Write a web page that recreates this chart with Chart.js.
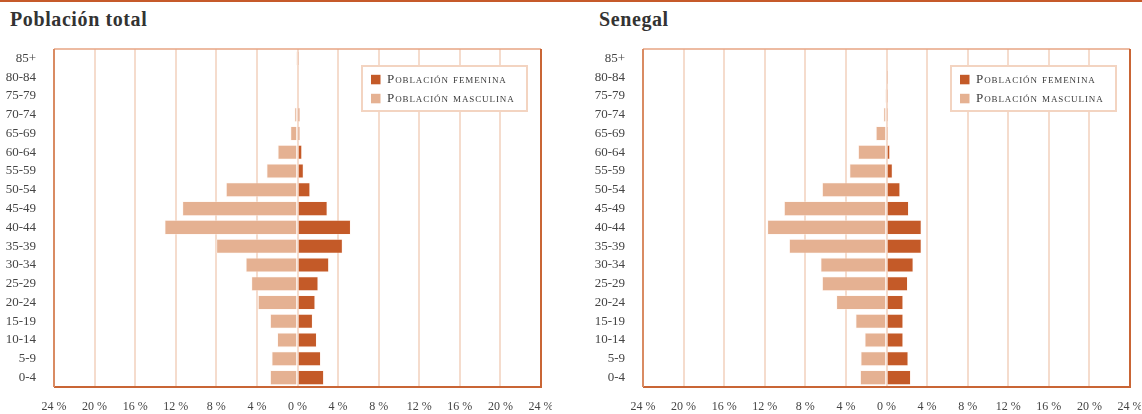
<!DOCTYPE html>
<html>
<head>
<meta charset="utf-8">
<script src="https://cdn.jsdelivr.net/npm/chart.js@4"></script>
<style>
  body { margin: 0; background: #fff; width: 1142px; height: 414px; overflow: hidden; position: relative; }
  .topline { position: absolute; left: 0; top: 0; width: 1142px; height: 2px; background: #c65a2a; }
  .panel { position: absolute; top: 0; width: 552px; height: 414px; }
  .panel h2 { position: absolute; left: 10px; top: 8px; margin: 0; font: bold 20px "Liberation Serif", serif; letter-spacing: 0.6px; color: #333; }
  .panel .box { position: absolute; left: 0; top: 40px; width: 552px; height: 374px; }
</style>
</head>
<body>
<div class="topline"></div>
<div class="panel" style="left:0"><h2>Población total</h2><div class="box"><canvas id="chartTotal"></canvas></div></div>
<div class="panel" style="left:589px"><h2>Senegal</h2><div class="box"><canvas id="chartSenegal"></canvas></div></div>
<script>
// grupos de edad, de arriba a abajo
let gruposEdad = ['85+', '80-84', '75-79', '70-74', '65-69', '60-64', '55-59', '50-54', '45-49',
    '40-44', '35-39', '30-34', '25-29', '20-24', '15-19', '10-14', '5-9', '0-4'];

// Población total (%)
let totalFemenina = [0.05, 0.1, 0.1, 0.25, 0.25, 0.45, 0.6, 1.25, 2.95, 5.25, 4.45, 3.1, 2.05, 1.75, 1.5, 1.9, 2.3, 2.6];
let totalMasculina = [0.05, 0.1, 0.1, 0.3, 0.7, 1.95, 3.05, 7.05, 11.35, 13.1, 8.0, 5.1, 4.55, 3.9, 2.7, 2.0, 2.55, 2.7];

// Senegal (%)
let senegalFemenina = [0, 0.05, 0.05, 0.15, 0.15, 0.35, 0.6, 1.35, 2.2, 3.45, 3.45, 2.65, 2.1, 1.65, 1.65, 1.65, 2.15, 2.4];
let senegalMasculina = [0, 0.1, 0.05, 0.3, 1.05, 2.8, 3.65, 6.35, 10.1, 11.75, 9.6, 6.5, 6.35, 4.95, 3.05, 2.15, 2.55, 2.6];

let ticksX = [-24, -20, -16, -12, -8, -4, 0, 4, 8, 12, 16, 20, 24];

const colorFemenina = '#c45a28';
const colorMasculina = '#e5b192';
const fuente = '"Liberation Serif", serif';

// marco del area del grafico + leyenda dentro
const marcoLeyenda = {
    id: 'marcoLeyenda',
    afterDraw(chart) {
        const ctx = chart.ctx;
        const a = chart.chartArea;
        ctx.save();
        ctx.strokeStyle = '#e7a583';
        ctx.lineWidth = 1.5;
        ctx.beginPath();
        ctx.moveTo(a.left, a.top);
        ctx.lineTo(a.right, a.top);
        ctx.stroke();
        ctx.strokeStyle = '#c96535';
        ctx.lineWidth = 2;
        ctx.beginPath();
        ctx.moveTo(a.right, a.top);
        ctx.lineTo(a.right, a.bottom);
        ctx.lineTo(a.left, a.bottom);
        ctx.stroke();
        ctx.strokeStyle = '#d98b63';
        ctx.beginPath();
        ctx.moveTo(a.left, a.top);
        ctx.lineTo(a.left, a.bottom);
        ctx.stroke();

        // leyenda
        const w = 165, h = 45;
        const x = a.right - 14 - w, y = a.top + 17;
        ctx.fillStyle = '#fff';
        ctx.fillRect(x, y, w, h);
        ctx.strokeStyle = '#f3d4c1';
        ctx.lineWidth = 2;
        ctx.strokeRect(x, y, w, h);
        ctx.font = '13px ' + fuente;
        if ('fontVariantCaps' in ctx) ctx.fontVariantCaps = 'small-caps';
        if ('letterSpacing' in ctx) ctx.letterSpacing = '0.9px';
        ctx.textBaseline = 'middle';
        chart.data.datasets.forEach((ds, i) => {
            const cy = y + 13.5 + i * 19;
            ctx.fillStyle = ds.backgroundColor;
            ctx.fillRect(x + 9, cy - 4.7, 9.5, 9.5);
            ctx.fillStyle = '#3a3a3a';
            ctx.fillText(ds.label, x + 25, cy + 0.5);
        });
        ctx.restore();
    }
};

function crearPiramide(id, femenina, masculina) {
    return new Chart(document.getElementById(id), {
        type: 'bar',
        data: {
            labels: gruposEdad,
            datasets: [{
                label: 'Población femenina',
                backgroundColor: colorFemenina,
                borderColor: 'rgba(255,240,232,0.6)',
                borderWidth: 0.8,
                borderSkipped: 'start',
                data: femenina
            }, {
                label: 'Población masculina',
                backgroundColor: colorMasculina,
                borderColor: 'rgba(255,240,232,0.6)',
                borderWidth: 0.8,
                borderSkipped: 'start',
                data: masculina.map(v => -v)
            }]
        },
        options: {
            indexAxis: 'y',
            responsive: false,
            animation: false,
            layout: { padding: { top: 9, right: 11 } },
            plugins: { legend: { display: false }, tooltip: { enabled: false } },
            datasets: { bar: { categoryPercentage: 1, barPercentage: 0.78 } },
            scales: {
                x: {
                    stacked: true,
                    min: -24, max: 24,
                    afterBuildTicks: s => { s.ticks = ticksX.map(v => ({ value: v })); },
                    afterFit: s => { s.height = 27; s.paddingLeft = 0; s.paddingRight = 0; },
                    grid: { color: '#f5dccd', lineWidth: 2, drawTicks: false },
                    border: { display: false },
                    ticks: {
                        padding: 13,
                        color: '#444',
                        font: { family: fuente, size: 12 },
                        maxRotation: 0,
                        callback: v => Math.abs(v) + ' %'
                    }
                },
                y: {
                    stacked: true,
                    afterFit: s => { s.width = 54; s.paddingTop = 0; s.paddingBottom = 0; },
                    grid: { display: false },
                    border: { display: false },
                    ticks: {
                        padding: 10,
                        color: '#444',
                        font: { family: fuente, size: 13 },
                        autoSkip: false
                    }
                }
            }
        },
        plugins: [marcoLeyenda]
    });
}

function dimensionar(id) {
    const c = document.getElementById(id);
    c.width = 552;
    c.height = 374;
}
dimensionar('chartTotal');
dimensionar('chartSenegal');
crearPiramide('chartTotal', totalFemenina, totalMasculina);
crearPiramide('chartSenegal', senegalFemenina, senegalMasculina);
</script>
</body>
</html>
